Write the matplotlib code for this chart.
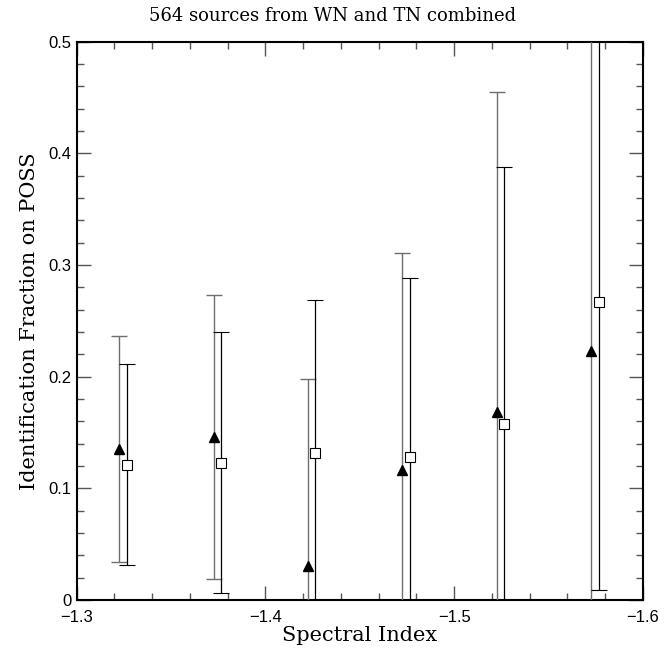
import matplotlib
matplotlib.use("Agg")
import matplotlib.pyplot as plt
from matplotlib.ticker import MultipleLocator, FuncFormatter

# spectral index bins (triangles slightly left of bin centre, squares right)
tri_x = [-1.3225, -1.3725, -1.4225, -1.4725, -1.5225, -1.5725]
tri_y = [0.135, 0.146, 0.030, 0.116, 0.168, 0.223]
tri_err = [0.101, 0.127, 0.168, 0.195, 0.287, 0.35]

sq_x = [-1.3265, -1.3765, -1.4265, -1.4765, -1.5265, -1.5765]
sq_y = [0.121, 0.123, 0.132, 0.128, 0.158, 0.267]
sq_err = [0.090, 0.117, 0.137, 0.160, 0.230, 0.258]

fig = plt.figure(figsize=(6.7, 6.53), dpi=100)
ax = fig.add_axes([0.1145, 0.0812, 0.8452, 0.8552])

ax.errorbar(tri_x, tri_y, yerr=tri_err, fmt="^", color="#6e6e6e", mfc="black",
            mec="black", ms=7, elinewidth=1.0, capsize=6, capthick=1.0, zorder=3)
ax.errorbar(sq_x, sq_y, yerr=sq_err, fmt="s", color="black", mfc="white",
            mec="black", mew=0.8, ms=7, elinewidth=0.9, capsize=6, capthick=1.0, zorder=3)

ax.set_xlim(-1.3, -1.6)
ax.set_ylim(0, 0.5)

ax.xaxis.set_major_locator(MultipleLocator(0.1))
ax.xaxis.set_minor_locator(MultipleLocator(0.02))
ax.yaxis.set_major_locator(MultipleLocator(0.1))
ax.yaxis.set_minor_locator(MultipleLocator(0.02))
ax.xaxis.set_major_formatter(FuncFormatter(lambda v, p: "\u2212%.1f" % abs(v)))
ax.yaxis.set_major_formatter(FuncFormatter(lambda v, p: "0" if abs(v) < 1e-9 else "%.1f" % v))

ax.tick_params(which="both", direction="in", top=True, right=True, width=1.0,
               labelsize=12, color="#555555")
ax.tick_params(which="major", length=10)
ax.tick_params(which="minor", length=5)
ax.tick_params(axis="x", which="major", pad=7)
for lbl in ax.get_xticklabels() + ax.get_yticklabels():
    lbl.set_fontfamily("Liberation Sans")
for sp in ax.spines.values():
    sp.set_linewidth(1.5)

ax.set_xlabel("Spectral Index", fontsize=15, family="DejaVu Serif", labelpad=1)
ax.set_ylabel("Identification Fraction on POSS", fontsize=15, family="DejaVu Serif", labelpad=7)
fig.text(0.497, 0.975, "564 sources from WN and TN combined", ha="center", va="center",
         fontsize=13, family="DejaVu Serif")

fig.savefig("out.png", dpi=100)
